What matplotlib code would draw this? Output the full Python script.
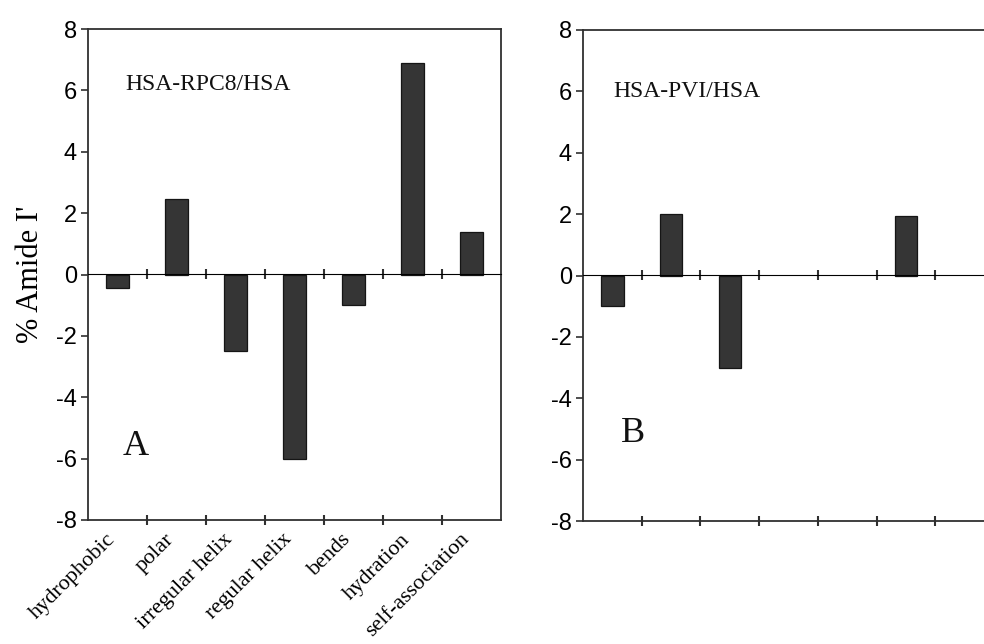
import numpy as np
import matplotlib
matplotlib.use("Agg")
import matplotlib.pyplot as plt

# Secondary-structure categories (x axis)
categories = ["hydrophobic", "polar", "irregular helix", "regular helix",
              "bends", "hydration", "self-association"]

# Change in % Amide I' for each complex relative to free HSA
rpc8_values = [-0.45, 2.45, -2.5, -6.0, -1.0, 6.9, 1.4]
pvi_values = [-1.0, 2.0, -3.0, 0.0, 0.0, 1.95, 0.0]

y_ticks = [-8, -6, -4, -2, 0, 2, 4, 6, 8]

SERIF = "Liberation Serif"
SANS = "Liberation Sans"
LINE = "#303030"
BAR = "#353535"

fig = plt.figure(figsize=(9.84, 6.44), dpi=100)
ax_a = fig.add_axes([88 / 984, 1 - 520 / 644, 413 / 984, 491 / 644])
ax_b = fig.add_axes([583 / 984, 1 - 521 / 644, 411 / 984, 491 / 644])

n = len(categories)
centers = np.arange(n) + 0.5
bounds = np.arange(1, n)
label_pos = centers - 0.09   # rotated labels end just left of each bar


def style_panel(ax, values, title, letter, title_xy, letter_xy, show_labels):
    vals = np.asarray(values, dtype=float)
    nonzero = vals != 0
    ax.bar(centers[nonzero], vals[nonzero], width=0.38, color=BAR,
           edgecolor="#151515", linewidth=0.9, zorder=2)
    ax.set_xlim(0, n)
    ax.set_ylim(-8, 8)
    for sp in ax.spines.values():
        sp.set_color(LINE)
        sp.set_linewidth(1.3)

    ax.set_yticks(y_ticks)
    ax.set_yticklabels([str(t) for t in y_ticks], fontfamily=SANS,
                       fontsize=17)
    ax.tick_params(axis="y", direction="out", length=5, width=1.2,
                   color=LINE, pad=3)

    # category boundary ticks on the bottom spine
    ax.set_xticks(bounds)
    ax.set_xticklabels([])
    ax.tick_params(axis="x", which="major", direction="inout", length=7,
                   width=1.5, color=LINE)
    ax.set_xticks(label_pos, minor=True)
    if show_labels:
        ax.set_xticklabels(categories, minor=True, rotation=45,
                           rotation_mode="anchor", ha="right", va="center",
                           fontfamily=SERIF, fontsize=16)
    else:
        ax.set_xticklabels([], minor=True)
    ax.tick_params(axis="x", which="minor", length=0, pad=12)

    # zero baseline carrying the same boundary ticks
    zero = ax.secondary_xaxis(0.5)
    zero.set_xticks(bounds)
    zero.set_xticklabels([])
    zero.tick_params(direction="inout", length=7, width=1.5, color=LINE)
    zero.spines["bottom"].set_color(LINE)
    zero.spines["bottom"].set_linewidth(1.3)
    zero.set_zorder(3)

    ax.text(*title_xy, title, fontfamily=SERIF, fontsize=17,
            ha="left", va="center", color="#111111")
    ax.text(*letter_xy, letter, fontfamily=SERIF, fontsize=26,
            ha="left", va="center", color="#111111")


style_panel(ax_a, rpc8_values, "HSA-RPC8/HSA", "A", (0.64, 6.2),
            (0.59, -5.6), True)
style_panel(ax_b, pvi_values, "HSA-PVI/HSA", "B", (0.51, 6.0),
            (0.65, -5.15), False)

ax_a.set_ylabel("% Amide I'", fontfamily=SERIF, fontsize=22, labelpad=8)

fig.savefig("out.png", dpi=100)
